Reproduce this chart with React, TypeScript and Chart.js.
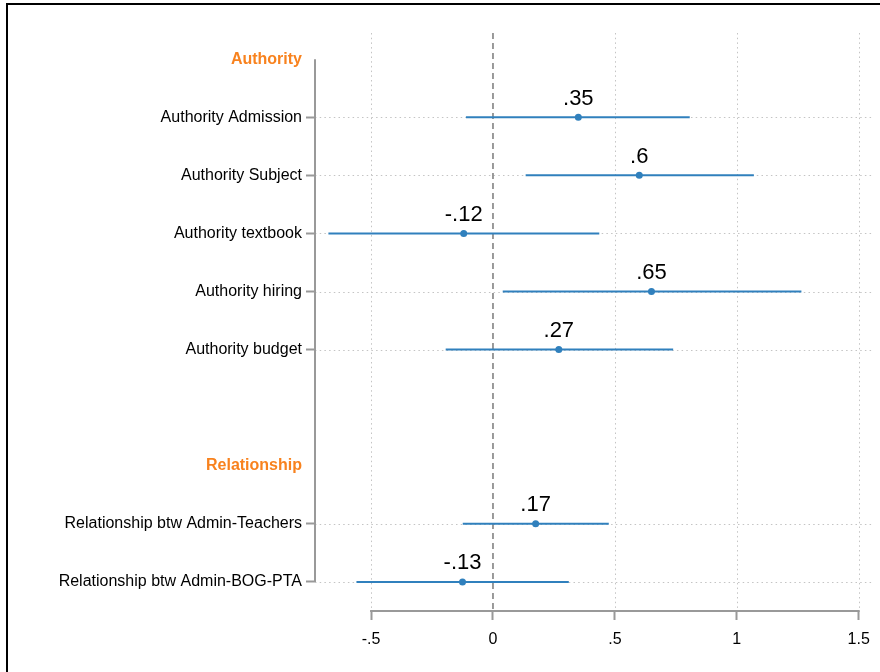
import React, { useEffect, useRef } from 'react';
import { Chart, registerables } from 'chart.js';

Chart.register(...registerables);

const yLabels = [
  'Authority',
  'Authority Admission',
  'Authority Subject',
  'Authority textbook',
  'Authority hiring',
  'Authority budget',
  '',
  'Relationship',
  'Relationship btw Admin-Teachers',
  'Relationship btw Admin-BOG-PTA',
];
const headerRows = [0, 7];
const itemRows = [1, 2, 3, 4, 5, 8, 9];
const estimates = [0.35, 0.6, -0.12, 0.65, 0.27, 0.175, -0.125];
const lowerCI = [-0.111, 0.134, -0.675, 0.04, -0.194, -0.124, -0.56];
const upperCI = [0.807, 1.07, 0.436, 1.265, 0.739, 0.475, 0.311];
const valueLabels = ['.35', '.6', '-.12', '.65', '.27', '.17', '-.13'];
const xTicks = [-0.5, 0, 0.5, 1, 1.5];
const xTickLabels = ['-.5', '0', '.5', '1', '1.5'];

const BLUE = '#3080bd';
const ORANGE = '#f8821e';
const AXIS = '#999999';
const GRID = '#c4c4c4';
const FONT = '"Liberation Sans", Arial, Helvetica, sans-serif';

export default function App() {
  const ref = useRef<HTMLCanvasElement | null>(null);

  useEffect(() => {
    document.body.style.margin = '0';
    document.body.style.overflow = 'hidden';
    const canvas = ref.current;
    if (!canvas) return;

    const decor = {
      id: 'decor',
      beforeDraw(chart: any) {
        const ctx = chart.ctx;
        ctx.save();
        ctx.fillStyle = '#ffffff';
        ctx.fillRect(0, 0, chart.width, chart.height);
        ctx.strokeStyle = '#000000';
        ctx.lineWidth = 2;
        ctx.beginPath();
        ctx.moveTo(7, chart.height + 5);
        ctx.lineTo(7, 4);
        ctx.lineTo(chart.width + 5, 4);
        ctx.stroke();
        ctx.restore();
      },
      beforeDatasetsDraw(chart: any) {
        const ctx = chart.ctx;
        const xs = chart.scales.x;
        const ys = chart.scales.y;
        const area = chart.chartArea;
        ctx.save();
        ctx.strokeStyle = GRID;
        ctx.lineWidth = 1;
        ctx.setLineDash([1.5, 3.2]);
        xTicks.forEach((v) => {
          if (v === 0) return;
          const px = Math.round(xs.getPixelForValue(v)) + 0.5;
          ctx.beginPath();
          ctx.moveTo(px, area.top);
          ctx.lineTo(px, area.bottom);
          ctx.stroke();
        });
        itemRows.forEach((r) => {
          const py = Math.round(ys.getPixelForValue(r)) + 0.5;
          ctx.beginPath();
          ctx.moveTo(area.left, py);
          ctx.lineTo(area.right, py);
          ctx.stroke();
        });
        ctx.strokeStyle = '#7a7a7a';
        ctx.lineWidth = 1.5;
        ctx.setLineDash([6, 4]);
        const zx = xs.getPixelForValue(0);
        ctx.beginPath();
        ctx.moveTo(zx, area.top);
        ctx.lineTo(zx, area.bottom);
        ctx.stroke();
        ctx.setLineDash([]);
        ctx.strokeStyle = AXIS;
        ctx.lineWidth = 2;
        const ax = area.left;
        ctx.beginPath();
        ctx.moveTo(ax, ys.getPixelForValue(0));
        ctx.lineTo(ax, ys.getPixelForValue(9));
        ctx.stroke();
        ctx.beginPath();
        ctx.moveTo(xs.getPixelForValue(xTicks[0]) - 1, area.bottom);
        ctx.lineTo(xs.getPixelForValue(xTicks[xTicks.length - 1]) + 1, area.bottom);
        ctx.stroke();
        ctx.restore();
      },
      afterDatasetsDraw(chart: any) {
        const ctx = chart.ctx;
        const xs = chart.scales.x;
        const ys = chart.scales.y;
        ctx.save();
        ctx.fillStyle = '#000000';
        ctx.font = `22px ${FONT}`;
        ctx.textAlign = 'center';
        ctx.textBaseline = 'alphabetic';
        itemRows.forEach((r, i) => {
          ctx.fillText(valueLabels[i], xs.getPixelForValue(estimates[i]), ys.getPixelForValue(r) - 12.5);
        });
        ctx.restore();
      },
    };

    const ciDatasets = itemRows.map((r, i) => ({
      type: 'line' as const,
      data: [
        { x: lowerCI[i], y: r },
        { x: upperCI[i], y: r },
      ],
      borderColor: BLUE,
      borderWidth: 2,
      pointRadius: 0,
      showLine: true,
      fill: false,
    }));

    const chart = new Chart(canvas, {
      type: 'scatter',
      data: {
        datasets: [
          ...ciDatasets,
          {
            type: 'scatter' as const,
            data: itemRows.map((r, i) => ({ x: estimates[i], y: r })),
            backgroundColor: BLUE,
            borderColor: BLUE,
            borderWidth: 0,
            pointRadius: 3.5,
          },
        ],
      } as any,
      options: {
        responsive: false,
        animation: false,
        events: [],
        layout: { padding: { top: 33, right: 7, left: 0, bottom: 0 } },
        plugins: { legend: { display: false }, tooltip: { enabled: false } },
        scales: {
          x: {
            type: 'linear',
            min: -0.73,
            max: 1.557,
            afterBuildTicks: (s: any) => {
              s.ticks = xTicks.map((v) => ({ value: v }));
            },
            afterFit: (s: any) => {
              s.height = 61;
            },
            ticks: {
              autoSkip: false,
              maxRotation: 0,
              padding: 10,
              color: '#000000',
              font: { family: FONT, size: 16 },
              callback: (v: any) => {
                const idx = xTicks.indexOf(Number(v));
                return idx >= 0 ? xTickLabels[idx] : '';
              },
            },
            grid: {
              drawOnChartArea: false,
              drawTicks: true,
              tickLength: 9,
              tickWidth: 2,
              tickColor: AXIS,
            },
            border: { display: false },
          },
          y: {
            type: 'linear',
            reverse: true,
            min: -0.45,
            max: 9.5,
            afterBuildTicks: (s: any) => {
              s.ticks = [...headerRows, ...itemRows].sort((a, b) => a - b).map((v) => ({ value: v }));
            },
            afterFit: (s: any) => {
              s.width = 315;
            },
            ticks: {
              autoSkip: false,
              padding: 4,
              color: (c: any) => (headerRows.includes(c.tick?.value) ? ORANGE : '#000000'),
              font: (c: any) =>
                headerRows.includes(c.tick?.value)
                  ? { family: FONT, size: 16, weight: 'bold' }
                  : { family: FONT, size: 16 },
              callback: (v: any) => yLabels[Math.round(Number(v))] ?? '',
            },
            grid: {
              drawOnChartArea: false,
              drawTicks: true,
              tickLength: 9,
              tickWidth: 2,
              tickColor: (c: any) => (headerRows.includes(c.tick?.value) ? 'rgba(0,0,0,0)' : AXIS),
            },
            border: { display: false },
          },
        },
      } as any,
      plugins: [decor],
    });

    return () => chart.destroy();
  }, []);

  return (
    <div style={{ width: 880, height: 672 }}>
      <canvas ref={ref} width={880} height={672} style={{ display: 'block' }} />
    </div>
  );
}
